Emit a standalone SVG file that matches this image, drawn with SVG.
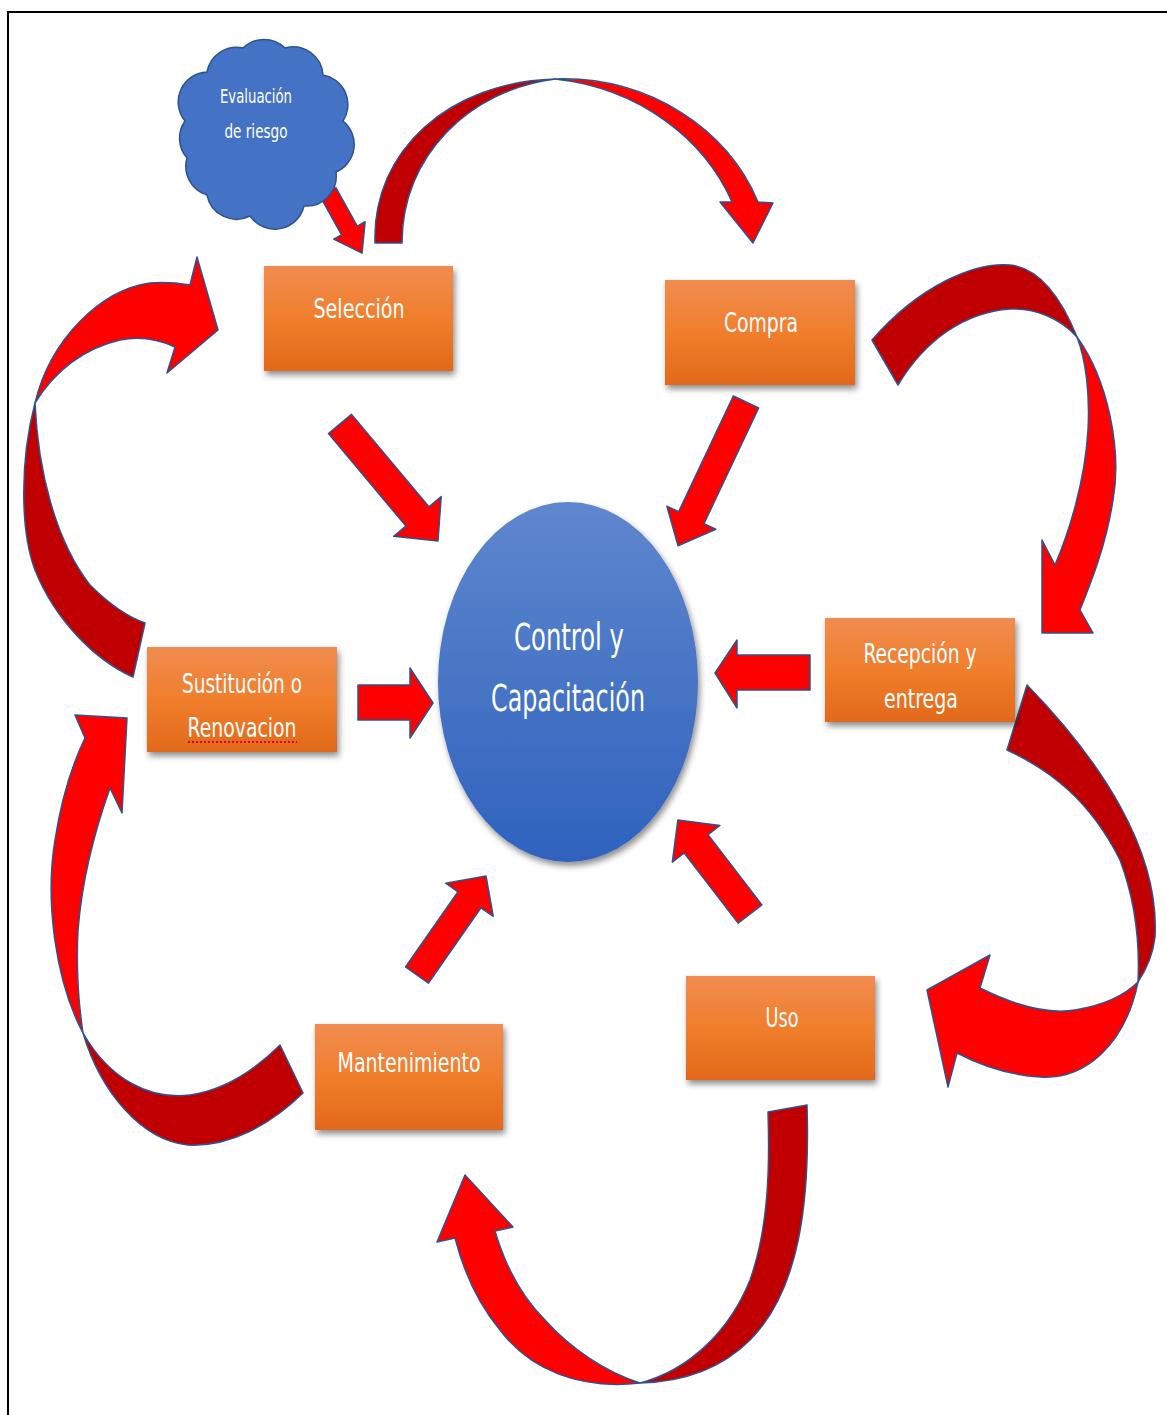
<svg xmlns="http://www.w3.org/2000/svg" width="1167" height="1415" viewBox="0 0 1167 1415">
  <defs>
    <linearGradient id="boxGrad" x1="0" y1="0" x2="0" y2="1">
      <stop offset="0" stop-color="#F18C50"/>
      <stop offset="0.5" stop-color="#F07E2C"/>
      <stop offset="1" stop-color="#E2691A"/>
    </linearGradient>
    <linearGradient id="hubGrad" x1="0" y1="0" x2="0" y2="1">
      <stop offset="0" stop-color="#5F87CE"/>
      <stop offset="1" stop-color="#2F62BD"/>
    </linearGradient>
    <filter id="shadow" x="-20%" y="-20%" width="140%" height="150%">
      <feDropShadow dx="2" dy="4" stdDeviation="3" flood-color="#000" flood-opacity="0.45"/>
    </filter>
    <style>
      .box { fill: url(#boxGrad); filter: url(#shadow); }
      .lbl { fill: #ffffff; font-family: "Liberation Sans Narrow", "DejaVu Sans Condensed", "Liberation Sans", sans-serif; font-size: 26px; text-anchor: middle; }
      .hubtxt { font-size: 37px; }
      .cloudtxt { font-size: 20px; }
      .front { fill: #FF0000; stroke: #2F528F; stroke-width: 1.5; stroke-linejoin: round; }
      .back { fill: #C00000; stroke: #2F528F; stroke-width: 1.5; stroke-linejoin: round; }
    </style>
  </defs>

  <rect x="0" y="0" width="1167" height="1415" fill="#ffffff"/>
  <!-- frame -->
  <rect x="8" y="12" width="1200" height="1450" fill="none" stroke="#000" stroke-width="2"/>

  <!-- connectors -->
  <g id="connectors">
    <!-- Selección -> Compra -->
    <g id="curve-top">
      <path class="back" d="M375,243 C372,150 450,82 555,79 C470,90 402,155 402,243 Z"/>
      <path class="front" d="M555,79 C650,76 728,130 758,202 L773,203 L753,243 L720,202 L732,202 C705,140 640,88 555,79 Z"/>
    </g>
    <!-- Compra -> Recepción y entrega -->
    <g id="curve-right-top">
      <path class="back" d="M872,340 C920,285 975,262 1010,265 C1040,268 1062,300 1077,337 C1060,318 1035,308 1010,309 C965,312 925,340 898,385 Z"/>
      <path class="front" d="M1077,337 C1108,380 1122,450 1113,500 C1106,545 1092,580 1080,610 L1093,633 L1042,633 L1042,540 L1055,565 C1070,530 1085,480 1088,430 C1090,395 1086,360 1077,337 Z"/>
    </g>
    <!-- Recepción y entrega -> Uso -->
    <g id="curve-right-bottom">
      <path class="back" d="M1027,685 C1100,760 1160,850 1155,937 C1153,955 1146,970 1138,982 C1140,940 1135,900 1120,860 C1090,800 1050,770 1007,750 Z"/>
      <path class="front" d="M1138,982 C1125,1045 1085,1080 1040,1077 C1010,1075 980,1065 957,1053 L948,1087 L927,990 L990,955 L980,988 C1010,1003 1045,1015 1075,1010 C1105,1005 1125,995 1138,982 Z"/>
    </g>
    <!-- Uso -> Mantenimiento -->
    <g id="curve-bottom">
      <path class="back" d="M807,1105 C810,1200 800,1290 750,1340 C720,1370 680,1382 640,1383 C690,1370 730,1330 750,1280 C768,1230 770,1170 768,1112 Z"/>
      <path class="front" d="M640,1383 C580,1390 530,1370 500,1330 C475,1300 462,1265 455,1238 L437,1242 L465,1175 L513,1227 L495,1231 C505,1265 520,1295 545,1320 C570,1348 605,1372 640,1383 Z"/>
    </g>
    <!-- Mantenimiento -> Sustitución o Renovacion -->
    <g id="curve-left-bottom">
      <path class="back" d="M83,1033 C110,1080 150,1100 190,1095 C225,1090 255,1070 280,1045 L303,1093 C270,1125 230,1147 188,1145 C140,1140 100,1090 83,1033 Z"/>
      <path class="front" d="M83,1033 C55,980 45,900 55,840 C62,795 72,765 85,738 L75,715 L127,718 L122,813 L110,788 C95,830 82,880 78,930 C76,970 78,1000 83,1033 Z"/>
    </g>
    <!-- Sustitución o Renovacion -> Selección -->
    <g id="curve-left-top">
      <path class="back" d="M35,403 C38,470 55,540 90,585 C110,605 128,617 145,623 L133,677 C95,660 55,620 35,570 C20,530 20,460 35,403 Z"/>
      <path class="front" d="M35,403 C50,340 100,290 150,283 C165,282 178,283 190,285 L197,257 L218,330 L167,373 L175,347 C160,340 140,336 120,340 C85,348 55,370 35,403 Z"/>
    </g>

    <!-- straight arrows into the hub -->
    <path class="front" transform="translate(340,424) rotate(50.05)" d="M0,-15 L120.6,-15 L120.6,-31 L152.6,0 L120.6,31 L120.6,15 L0,15 Z"/>
    <path class="front" transform="translate(746,402) rotate(115.3)" d="M0,-14 L128,-14 L128,-27 L159,0 L128,27 L128,14 L0,14 Z"/>
    <path class="front" d="M358,685 L410,685 L410,668 L433,703 L410,738 L410,720 L358,720 Z"/>
    <path class="front" d="M810,655 L737,655 L737,640 L715,673 L737,708 L737,690 L810,690 Z"/>
    <path class="front" transform="translate(417,975) rotate(-55.1)" d="M0,-14 L91.7,-14 L91.7,-29 L120.7,0 L91.7,29 L91.7,14 L0,14 Z"/>
    <path class="front" transform="translate(750,914) rotate(-127.5)" d="M0,-15 L88.5,-15 L88.5,-30 L118.5,0 L88.5,30 L88.5,15 L0,15 Z"/>
    <!-- risk assessment -> Selección -->
    <path class="front" transform="translate(328,192) rotate(60.9)" d="M0,-9 L44,-9 L44,-18 L70,0 L44,18 L44,9 L0,9 Z"/>
  </g>

  <!-- risk assessment cloud -->
  <g id="node-evaluacion">
    <path d="M185,121 A30 30 0 0 1 207,72 A30 30 0 0 1 243,48 A30 30 0 0 1 285,48 A30 30 0 0 1 323,75 A30 30 0 0 1 343,121 A30 30 0 0 1 336,172 A30 30 0 0 1 304,206 A30 30 0 0 1 250,216 A30 30 0 0 1 207,195 A30 30 0 0 1 187,158 A30 30 0 0 1 185,121 Z" fill="#4472C4" stroke="#2F528F" stroke-width="1.5"/>
    <text class="lbl cloudtxt" x="256" y="103" textLength="72" lengthAdjust="spacingAndGlyphs">Evaluación</text>
    <text class="lbl cloudtxt" x="256" y="138" textLength="63" lengthAdjust="spacingAndGlyphs">de riesgo</text>
  </g>

  <!-- hub -->
  <g id="node-control">
    <ellipse cx="568" cy="682" rx="130" ry="180" fill="url(#hubGrad)" filter="url(#shadow)"/>
    <text class="lbl hubtxt" x="569" y="650" textLength="110" lengthAdjust="spacingAndGlyphs">Control y</text>
    <text class="lbl hubtxt" x="568" y="711" textLength="154" lengthAdjust="spacingAndGlyphs">Capacitación</text>
  </g>

  <g id="node-seleccion">
    <rect class="box" x="264" y="266" width="189" height="105"/>
    <text class="lbl" x="359" y="318" textLength="91" lengthAdjust="spacingAndGlyphs">Selección</text>
  </g>

  <g id="node-compra">
    <rect class="box" x="665" y="280" width="190" height="105"/>
    <text class="lbl" x="761" y="332" textLength="74" lengthAdjust="spacingAndGlyphs">Compra</text>
  </g>

  <g id="node-recepcion">
    <rect class="box" x="825" y="618" width="190" height="104"/>
    <text class="lbl" x="920" y="663" textLength="113" lengthAdjust="spacingAndGlyphs">Recepción y</text>
    <text class="lbl" x="921" y="708" textLength="74" lengthAdjust="spacingAndGlyphs">entrega</text>
  </g>

  <g id="node-sustitucion">
    <rect class="box" x="147" y="647" width="190" height="105"/>
    <text class="lbl" x="242" y="693" textLength="120" lengthAdjust="spacingAndGlyphs">Sustitución o</text>
    <text class="lbl" x="242" y="737" textLength="109" lengthAdjust="spacingAndGlyphs">Renovacion</text>
    <line x1="188" y1="742" x2="297" y2="742" stroke="#E00000" stroke-width="2" stroke-dasharray="2 2"/>
  </g>

  <g id="node-uso">
    <rect class="box" x="686" y="976" width="189" height="104"/>
    <text class="lbl" x="782" y="1027" textLength="33" lengthAdjust="spacingAndGlyphs">Uso</text>
  </g>

  <g id="node-mantenimiento">
    <rect class="box" x="315" y="1024" width="188" height="106"/>
    <text class="lbl" x="409" y="1072" textLength="143" lengthAdjust="spacingAndGlyphs">Mantenimiento</text>
  </g>
</svg>
